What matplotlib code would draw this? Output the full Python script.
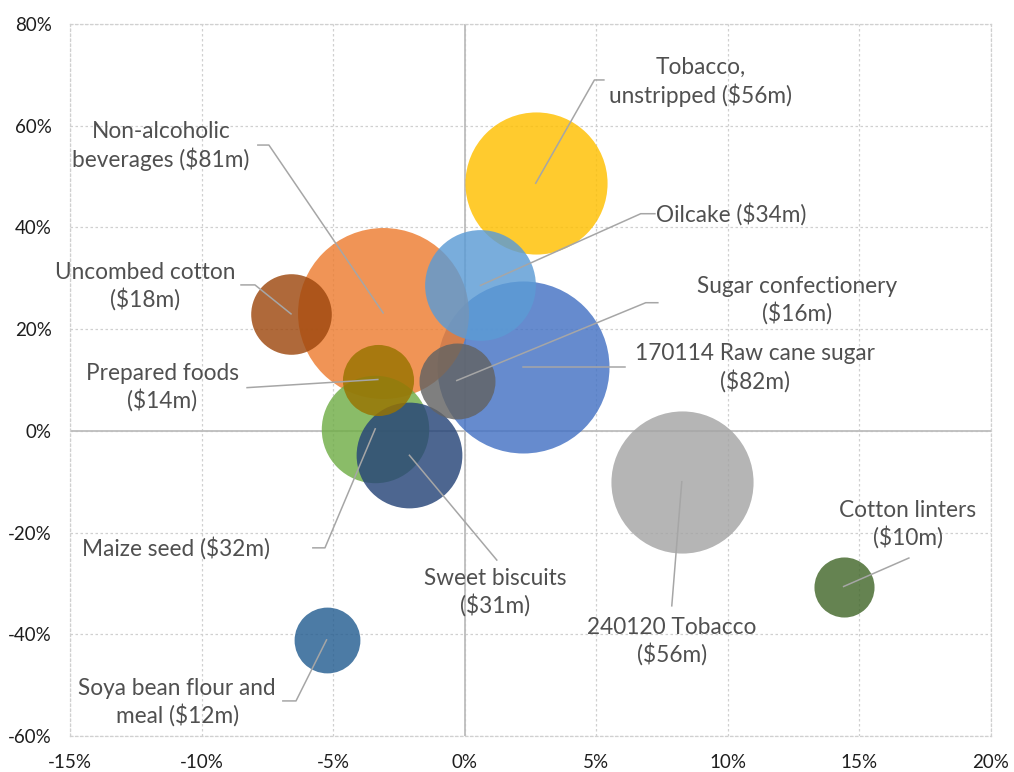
import matplotlib.pyplot as plt
from matplotlib.ticker import FuncFormatter, MultipleLocator

# Bubble data: growth in value (x, %), growth in volume (y, %), trade value ($m)
products = ["170114 Raw cane sugar", "Non-alcoholic beverages", "240120 Tobacco",
            "Tobacco, unstripped", "Oilcake", "Maize seed", "Sweet biscuits",
            "Uncombed cotton", "Sugar confectionery", "Prepared foods",
            "Soya bean flour and meal", "Cotton linters"]
growth_x = [2.2, -3.1, 8.25, 2.7, 0.6, -3.4, -2.1, -6.6, -0.3, -3.3, -5.25, 14.4]
growth_y = [12.6, 23.2, -10.0, 48.7, 28.6, 0.4, -4.8, 23.0, 9.9, 10.1, -41.1, -30.6]
value_m = [82, 81, 56, 56, 34, 32, 31, 18, 16, 14, 12, 10]

# label text as wrapped in the chart (value appended below)
label_names = ["170114 Raw cane sugar\n", "Non-alcoholic\nbeverages ", "240120 Tobacco\n",
               "Tobacco,\nunstripped ", "Oilcake ", "Maize seed ", "Sweet biscuits\n",
               "Uncombed cotton\n", "Sugar confectionery\n", "Prepared foods\n",
               "Soya bean flour and\nmeal ", "Cotton linters\n"]

# Excel office palette
colors = ["#4472C4", "#ED7D31", "#A5A5A5", "#FFC000", "#5B9BD5", "#70AD47",
          "#264478", "#9E480E", "#636363", "#997300", "#255E91", "#43682B"]

# layout: label centres and leader line points (towards the bubble)
label_pos = [(11.03, 12.4), (-11.54, 56.0), (7.87, -41.3), (8.97, 68.6),
             (10.11, 42.7), (-10.97, -23.0), (1.15, -31.7), (-12.15, 28.5),
             (12.62, 25.6), (-11.5, 8.5), (-10.93, -53.3), (16.84, -18.3)]
leader_pts = [
    [(6.09, 12.6)],
    [(-7.86, 56.2), (-7.44, 56.2)],
    [(7.87, -34.4)],
    [(5.29, 69.0), (4.93, 69.0)],
    [(7.23, 42.7), (6.69, 42.7)],
    [(-5.77, -23.0), (-5.31, -23.0)],
    [(1.22, -25.4)],
    [(-8.50, 28.7), (-7.97, 28.7)],
    [(7.34, 25.2), (6.88, 25.2)],
    [(-8.27, 8.5)],
    [(-6.91, -53.1), (-6.41, -53.1)],
    [(16.88, -25.0)],
]

plt.rcParams['font.family'] = ['Lato', 'DejaVu Sans']

fig = plt.figure(figsize=(10.14, 7.72), dpi=100)
ax = fig.add_axes([0.069, 0.0466, 0.9083, 0.9223])

# largest bubble ~172 px across, area proportional to value
max_diam_pt = 172 * 72 / 100
sizes = [max_diam_pt ** 2 * v / max(value_m) for v in value_m]

for i in range(len(products)):
    ax.scatter(growth_x[i], growth_y[i], s=sizes[i], color=colors[i], alpha=0.82,
               linewidths=0, zorder=3 + i)

for i in range(len(products)):
    pts = leader_pts[i] + [(growth_x[i], growth_y[i])]
    ax.plot([p[0] for p in pts], [p[1] for p in pts], color='#A6A6A6', lw=1.1,
            zorder=20)
    ax.text(label_pos[i][0], label_pos[i][1], label_names[i] + f"(${value_m[i]}m)",
            ha='center', va='center', multialignment='center', fontsize=16.3,
            color='#505050', linespacing=1.25, zorder=21)

ax.set_xlim(-15, 20)
ax.set_ylim(-60, 80)
ax.xaxis.set_major_locator(MultipleLocator(5))
ax.yaxis.set_major_locator(MultipleLocator(20))
ax.xaxis.set_major_formatter(FuncFormatter(lambda v, p: f"{v:.0f}%"))
ax.yaxis.set_major_formatter(FuncFormatter(lambda v, p: f"{v:.0f}%"))
ax.tick_params(length=0, labelsize=13.5, labelcolor='#1E1E1E')
ax.tick_params(axis='y', pad=13)
ax.tick_params(axis='x', pad=13)

ax.grid(True, color='#D0D0D0', linestyle=(0, (2, 2)), lw=0.9, zorder=0)
ax.set_axisbelow(True)
for s in ax.spines.values():
    s.set_color('#D0D0D0')
    s.set_linestyle((0, (2, 2)))
    s.set_linewidth(0.9)

# axes cross at zero
ax.axhline(0, color='#BDBDBD', lw=1.3, zorder=1)
ax.axvline(0, color='#BDBDBD', lw=1.3, zorder=1)

plt.savefig("out.png", dpi=100)
